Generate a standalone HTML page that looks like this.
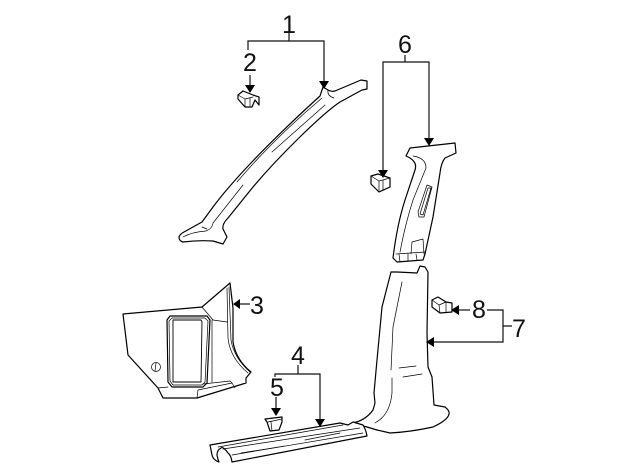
<!DOCTYPE html>
<html>
<head>
<meta charset="utf-8">
<style>
html,body{margin:0;padding:0;background:#fff;width:640px;height:471px;overflow:hidden}
svg{display:block}
text{font-family:"Liberation Sans",sans-serif;font-size:25px;fill:#111;text-anchor:middle}
.o{fill:#fff;stroke:#000;stroke-width:1.2;stroke-linejoin:round;stroke-linecap:round}
.n{fill:none;stroke:#000;stroke-width:.7;stroke-linecap:round;stroke-linejoin:round}
.l{fill:none;stroke:#111;stroke-width:1.2}
.a{fill:#000;stroke:none}
</style>
</head>
<body>
<svg width="640" height="471" viewBox="0 0 640 471" xmlns="http://www.w3.org/2000/svg">
<!-- Part 1 -->
<path class="o" d="M179 237Q180 234 184 232L202 222L213 207C230 184 265 146 320 96L323 87L328 90Q331 92 335 91L361 80L367 81L367 89L362 90L340 102C322 114 280 155 253 187L228 218Q222 224 223 229L227 237L223 244L213 241Q198 240 183 242Q179 241 179 237Z"/>
<path class="n" d="M322 98C290 125 260 155 237 182M325 105L272 152M243 185L213 223Q212 229 206 231Q192 232 183 237M202 227L207 229M328 90Q327 96 334 98"/>
<!-- Part 2 clip -->
<path class="o" d="M238 95L243 91L253 95L259 97L259 105L255 100L252 107L245 107L238 99Z"/>
<path class="n" d="M238 95L245 99L245 107M245 99L253 97M250 98L250 106"/>
<!-- Part 6 -->
<path class="o" d="M406 156L410 148L455 143L456 153L445 158Q441 163 440 173L433 217L425 254L423 260L397 262L393 258Q397 225 405 200L415 170Q418 161 406 156Z"/>
<path class="n" d="M413 156Q426 158 426 168L413 200Q405 225 400 252"/>
<path class="n" d="M427 185L432 187L424 217L419 217L418 212ZM428 188L431 188L423 215L420 214Z"/>
<path class="n" d="M411 254L412 242L423 239L424 254M396 254L425 252M399 254L400 262M408 254L408 261M416 254L417 260"/>
<!-- Part 6 clip -->
<path class="o" d="M371 176L378 174L390 178L390 187L379 192L371 184Z"/>
<path class="n" d="M371 176L379 181L390 178M379 181L379 192M383 180L383 190"/>
<!-- Part 7 -->
<path class="o" d="M391 272L397 272L417 273L420 266L425 267L428 272L427 333L428 367L432 377L434 405L445 407Q450 411 449 414Q448 420 433 427Q410 432 390 433L377 430L367 427L352 423Q365 421 373 410L375 403L374 393L377 360L382 307Z"/>
<path class="n" d="M402 282L393 327L391 370M392 378L392 393Q390 415 375 423M399 368L416 366M403 377L422 374"/>
<!-- Part 8 clip -->
<path class="o" d="M432 300L438 297L446 302L452 303L452 312L440 313L432 307Z"/>
<path class="n" d="M432 300L439 305L446 302M439 305L440 313M446 302L446 312"/>
<!-- Part 3 -->
<path class="o" d="M123 314L202 307L230 283L233 308L233 342Q236 360 251 372L246 378L246 383L197 398L163 398L158 388L128 355Z"/>
<path class="n" d="M227 288L228 338Q230 358 248 373M229 287L231 340Q234 358 250 372M202 307L213 320L227 322M212 320L212 382"/>
<path class="o" d="M167 320L170 316L207 316L210 320L207 383L203 387L172 387L168 382Z"/>
<path class="n" d="M169 321L172 318L205 318L208 321L205 382L202 385L173 385L170 381Z"/>
<path class="o" style="stroke-width:.9" d="M173 320L201 320L202 322L201 382L173 382Z"/>
<path class="n" d="M158 388L168 387M203 384L230 381L232 383L198 390L197 398M232 383L235 388"/>
<circle class="n" cx="156" cy="367" r="4.500"/>
<path class="n" d="M156 363L155 371"/>
<!-- Part 4 -->
<path class="o" d="M210 445L340 423L348 425L353 422L363 425Q366 430 367 436L232 462Q231 455 228 453Q223 446 221 448Q217 450 217 455Q218 460 219 462Q213 460 212 455Z"/>
<path class="n" d="M218 447L343 425M223 449L360 428M232 455L363 433M241 453L285 446M305 440L340 433"/>
<!-- Part 5 clip -->
<path class="o" d="M265 419L282 417L282 422L279 430L270 431L267 422Z"/>
<path class="n" d="M268 422L282 419M271 422L272 431"/>
<!-- leader lines -->
<g class="l">
<path d="M289 33V41M248 50V41H324V82"/>
<path d="M250 75V87"/>
<path d="M405 55V62M383 172V62H429V140"/>
<path d="M250 304H238"/>
<path d="M298 365V374M275 377V374H320V421"/>
<path d="M276 397V410"/>
<path d="M470 310H457"/>
<path d="M487 310H503V342H432M503 326H512"/>
</g>
<g class="a">
<path d="M319 81H329L324 89Z"/>
<path d="M245 85H255L250 93Z"/>
<path d="M378 170H388L383 178Z"/>
<path d="M424 138H434L429 146Z"/>
<path d="M240 299V309L233 304Z"/>
<path d="M315 419H325L320 427Z"/>
<path d="M271 408H281L276 416Z"/>
<path d="M459 305V315L451 310Z"/>
<path d="M434 337V347L426 342Z"/>
</g>
<!-- labels -->
<text x="289" y="33">1</text>
<text x="250" y="71">2</text>
<text x="257" y="314">3</text>
<text x="298" y="364">4</text>
<text x="277" y="396">5</text>
<text x="405" y="53">6</text>
<text x="519" y="337">7</text>
<text x="479" y="318">8</text>
</svg>
</body>
</html>
